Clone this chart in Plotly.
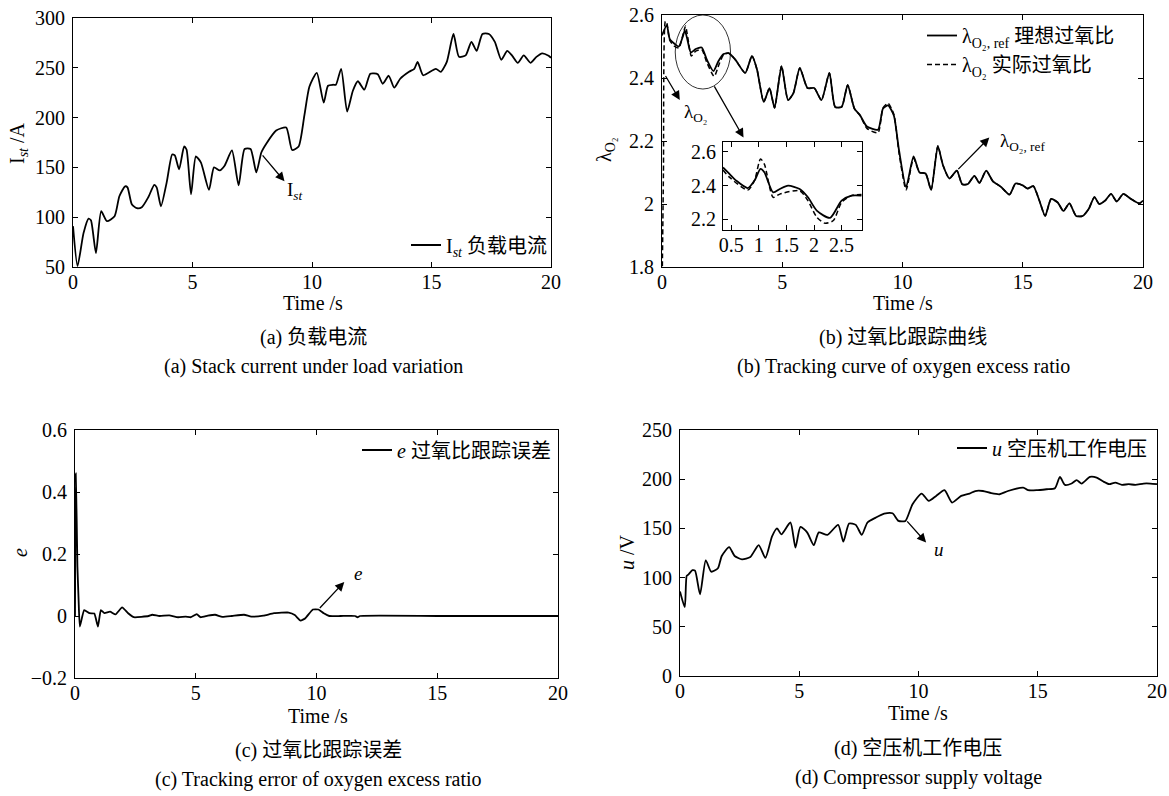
import plotly.graph_objects as go

# ---------------- data ----------------
# (a) stack current
t_I = [0, 0.19, 0.44, 0.65, 0.75, 0.96, 1.18, 1.42, 1.74, 1.94, 2.18, 2.28, 2.46, 2.67, 2.88,
       3.15, 3.4, 3.5, 3.68, 3.92, 4.15, 4.26, 4.44, 4.65, 4.75, 4.94, 5.14, 5.35, 5.69, 5.9,
       6.14, 6.35, 6.65, 6.93, 7.18, 7.43, 7.67, 7.88, 8.08, 8.5, 8.92, 9.17, 9.44, 9.68, 9.89,
       10.2, 10.49, 10.67, 10.88, 11.0, 11.22, 11.47, 11.71, 11.92, 12.19, 12.44, 12.75, 12.96, 13.21, 13.44,
       13.69, 14.06, 14.28, 14.42, 14.65, 15.18, 15.39, 15.64, 15.92, 16.15, 16.43, 16.67, 16.89, 17.13, 17.4,
       17.65, 17.92, 18.17, 18.38, 18.61, 18.86, 19.14, 19.39, 19.63, 19.9, 20]
I_st = [91, 51, 84, 98.5, 97, 64, 106, 96, 101, 121, 131, 130, 113, 109, 110,
        120, 132.5, 130, 111, 135, 163, 162, 148, 171, 168, 123, 161, 155, 127.5, 150,
        147, 152, 167, 132, 168.5, 168.5, 145, 165, 173.5, 187, 190, 167.5, 171, 202, 231,
        245, 215, 232, 233, 233, 249, 206, 227, 236.5, 228, 244, 243.5, 234, 242, 230,
        239, 246, 249, 256, 242.5, 249, 246, 256, 284, 261, 262.5, 276, 267, 284, 284,
        276, 258, 267, 262, 255, 262.5, 255, 261, 264.5, 262, 260]

# (b) oxygen excess ratio
t_ref = [0, 0.2, 0.32, 0.53, 0.7, 0.88, 0.95, 1.05, 1.2, 1.4, 1.65, 1.86, 2.14, 2.35, 2.56,
         2.77, 3.04, 3.46, 3.74, 3.95, 4.23, 4.47, 4.68, 4.97, 5.24, 5.46, 5.73, 6.05, 6.33, 6.63,
         6.96, 7.2, 7.47, 7.72, 8.0, 8.24, 8.52, 8.98, 9.19, 9.4, 9.64, 9.85, 10.15, 10.46, 10.71,
         10.96, 11.19, 11.47, 11.68, 11.95, 12.26, 12.48, 12.71, 12.99, 13.2, 13.48, 13.75, 14.1, 14.45, 14.7,
         15.0, 15.2, 15.44, 15.69, 15.93, 16.18, 16.45, 16.69, 16.94, 17.22, 17.49, 17.74, 17.98, 18.18, 18.43,
         18.67, 18.91, 19.18, 19.5, 19.85, 20.0]
lam_ref = [2.535, 2.568, 2.524, 2.508, 2.5, 2.535, 2.551, 2.524, 2.481, 2.492, 2.497, 2.459, 2.422, 2.454, 2.476,
           2.479, 2.459, 2.416, 2.47, 2.427, 2.324, 2.368, 2.305, 2.438, 2.33, 2.351, 2.432, 2.368, 2.368, 2.33,
           2.416, 2.308, 2.308, 2.378, 2.303, 2.281, 2.246, 2.236, 2.303, 2.313, 2.281, 2.173, 2.054, 2.151, 2.1,
           2.097, 2.045, 2.184, 2.124, 2.081, 2.106, 2.063, 2.063, 2.089, 2.067, 2.106, 2.073, 2.054, 2.03, 2.065,
           2.059, 2.049, 2.057, 2.011, 1.962, 2.016, 2.005, 1.978, 2.002, 1.962, 1.962, 1.984, 2.022, 2.0, 2.011,
           2.032, 2.008, 2.032, 2.016, 2.002, 2.011]
t_act = [0, 0.06, 0.14, 0.2, 0.32, 0.53, 0.7, 0.88, 0.98, 1.07, 1.22, 1.4, 1.65, 1.86, 2.17, 2.38, 2.56,
         2.77, 3.04, 3.46, 3.74, 3.95, 4.23, 4.47, 4.68, 4.97, 5.24, 5.46, 5.73, 6.05, 6.33, 6.63,
         6.96, 7.2, 7.47, 7.72, 8.0, 8.24, 8.52, 8.98, 9.19, 9.4, 9.64, 9.85, 10.15, 10.46, 10.71,
         10.96, 11.19, 11.47, 11.68, 11.95, 12.26, 12.48, 12.71, 12.99, 13.2, 13.48, 13.75, 14.1, 14.45, 14.7,
         15.0, 15.2, 15.44, 15.69, 15.93, 16.18, 16.45, 16.69, 16.94, 17.22, 17.49, 17.74, 17.98, 18.18, 18.43,
         18.67, 18.91, 19.18, 19.5, 19.85, 20.0]
lam_act = [1.70, 2.10, 2.58, 2.575, 2.52, 2.50, 2.495, 2.54, 2.565, 2.53, 2.47, 2.485, 2.49, 2.45, 2.405, 2.445, 2.474,
           2.479, 2.459, 2.416, 2.47, 2.427, 2.324, 2.368, 2.305, 2.438, 2.33, 2.351, 2.432, 2.368, 2.368, 2.33,
           2.416, 2.308, 2.308, 2.378, 2.303, 2.281, 2.24, 2.226, 2.305, 2.32, 2.285, 2.165, 2.045, 2.145, 2.1,
           2.097, 2.045, 2.184, 2.124, 2.081, 2.106, 2.063, 2.063, 2.089, 2.067, 2.106, 2.073, 2.054, 2.03, 2.065,
           2.059, 2.049, 2.057, 2.011, 1.962, 2.016, 2.005, 1.978, 2.002, 1.962, 1.962, 1.984, 2.022, 2.0, 2.011,
           2.032, 2.008, 2.032, 2.016, 2.002, 2.011]

# (b) inset
ins_t_ref = [0.35, 0.44, 0.59, 0.8, 0.92, 1.03, 1.1, 1.26, 1.38, 1.53, 1.74, 1.89, 2.05, 2.29, 2.5, 2.68, 2.86]
ins_ref = [2.508, 2.479, 2.43, 2.386, 2.43, 2.499, 2.479, 2.36, 2.38, 2.4, 2.38, 2.331, 2.252, 2.209, 2.311, 2.341, 2.341]
ins_t_act = [0.35, 0.47, 0.8, 0.92, 1.03, 1.1, 1.26, 1.38, 1.74, 1.89, 2.05, 2.2, 2.35, 2.5, 2.68, 2.86]
ins_act = [2.493, 2.449, 2.374, 2.43, 2.558, 2.528, 2.331, 2.35, 2.37, 2.311, 2.213, 2.177, 2.193, 2.3, 2.341, 2.347]

# (c) tracking error
t_e = [0, 0.03, 0.07, 0.1, 0.15, 0.2, 0.38, 0.6, 0.8, 0.95, 1.07, 1.22, 1.45, 1.68, 1.95,
       2.2, 2.44, 3.05, 3.2, 3.5, 3.9, 4.27, 4.58, 4.8, 5.04, 5.2, 5.5, 5.8, 6.1, 6.5,
       7.0, 7.3, 7.8, 8.24, 8.85, 9.1, 9.34, 9.54, 9.85, 10.08, 10.3, 10.53, 11.0, 11.6, 11.7,
       11.8, 15, 20]
e_err = [0, 0.46, 0.31, 0.16, 0.05, -0.034, 0.019, 0.009, 0.008, -0.034, 0.019, 0.009, 0.014, 0.005, 0.028,
         0.009, -0.004, 0.0, 0.004, 0.0, 0.002, -0.004, -0.002, -0.004, 0.006, -0.004, 0.001, 0.004, -0.003, 0.0,
         0.004, -0.002, 0.001, 0.009, 0.011, 0.003, -0.015, -0.007, 0.021, 0.021, 0.009, 0.0, 0.0, 0.0, -0.004,
         0.0, 0.0, 0.0]

# (d) compressor voltage
t_u = [0, 0.2, 0.28, 0.35, 0.52, 0.63, 0.84, 1.08, 1.31, 1.59, 1.75, 2.06, 2.29, 2.6, 2.95,
       3.3, 3.58, 3.86, 4.07, 4.25, 4.63, 4.84, 5.05, 5.33, 5.61, 5.82, 6.18, 6.63, 6.85, 7.09,
       7.37, 7.62, 7.86, 8.21, 8.56, 8.91, 9.16, 9.45, 9.75, 10.13, 10.43, 10.74, 11.09, 11.41, 11.79,
       12.14, 12.38, 12.7, 13.05, 13.4, 13.75, 14.39, 14.6, 14.95, 15.37, 15.72, 15.93, 16.14, 16.42, 16.63,
       16.84, 17.19, 17.47, 17.75, 18.0, 18.25, 18.53, 18.81, 19.09, 19.44, 19.72, 20]
u_v = [86, 70, 101.7, 103, 107.5, 107, 83, 117.6, 106, 109.5, 122, 131, 122, 118.6, 121,
       133, 120, 142, 150, 144, 156, 130.5, 151.5, 146, 133, 146, 143.4, 153.6, 136.6, 155,
       153.6, 143.4, 156, 161, 165, 165.4, 157.6, 157.6, 174.6, 185.4, 178, 183, 188.8, 176.3, 183,
       185.4, 188, 188, 185.8, 184.7, 188, 191.5, 188.8, 188.8, 189.8, 190.8, 202.4, 194.2, 195.6, 199,
       195.6, 202.4, 201.7, 197.6, 195, 196.6, 194.2, 195, 194.2, 195.6, 195.6, 195]

x_ticks = [0, 5, 10, 15, 20]
x_ticklabels = ["0", "5", "10", "15", "20"]

# ---------------- figure ----------------
W, H = 1169, 796
FONT = "Liberation Serif, Noto Sans CJK SC"

def px(x):
    return x / W

def py(y):
    return 1 - y / H

fig = go.Figure()
LW = 1.8
DASH = "5px,3px"

fig.add_trace(go.Scatter(x=t_I, y=I_st, mode="lines", line=dict(color="black", width=LW, shape="spline", smoothing=0.6),
                         name="I<sub><i>st</i></sub> 负载电流", xaxis="x", yaxis="y", legend="legend"))
fig.add_trace(go.Scatter(x=t_ref, y=lam_ref, mode="lines", line=dict(color="black", width=LW, shape="spline", smoothing=0.6),
                         name="λ<sub>O₂, ref</sub> 理想过氧比", xaxis="x2", yaxis="y2", legend="legend2"))
fig.add_trace(go.Scatter(x=t_act, y=lam_act, mode="lines", line=dict(color="black", width=1.5, dash=DASH, shape="spline", smoothing=0.6),
                         name="λ<sub>O₂</sub> 实际过氧比", xaxis="x2", yaxis="y2", legend="legend2"))
fig.add_trace(go.Scatter(x=t_e, y=e_err, mode="lines", line=dict(color="black", width=LW, shape="spline", smoothing=0.4),
                         name="<i>e</i> 过氧比跟踪误差", xaxis="x3", yaxis="y3", legend="legend3"))
fig.add_trace(go.Scatter(x=t_u, y=u_v, mode="lines", line=dict(color="black", width=LW, shape="spline", smoothing=0.6),
                         name="<i>u</i> 空压机工作电压", xaxis="x4", yaxis="y4", legend="legend4"))
fig.add_trace(go.Scatter(x=ins_t_ref, y=ins_ref, mode="lines", line=dict(color="black", width=LW, shape="spline", smoothing=0.7),
                         showlegend=False, xaxis="x5", yaxis="y5"))
fig.add_trace(go.Scatter(x=ins_t_act, y=ins_act, mode="lines", line=dict(color="black", width=1.5, dash=DASH, shape="spline", smoothing=0.7),
                         showlegend=False, xaxis="x5", yaxis="y5"))

tickfont = dict(family=FONT, size=20, color="black")

def axis(domain, rng, anchor, tickvals, ticktext, standoff):
    return dict(domain=domain, range=rng, anchor=anchor, tickvals=tickvals, ticktext=ticktext,
                showline=True, linecolor="black", linewidth=1, mirror="ticks", ticks="inside",
                ticklen=5, tickcolor="black", showgrid=False, zeroline=False, tickfont=tickfont,
                ticklabelstandoff=standoff, automargin=False, fixedrange=True)

# domains in pixels
A = (73, 551, 18, 267)
B = (662, 1143, 15, 267)
C = (75, 558, 430, 678)
D = (680, 1157, 430, 676)
INS = (723, 862, 142, 230)

def xd(r):
    return [px(r[0]), px(r[1])]

def yd(r):
    return [py(r[3]), py(r[2])]

XS, YS = -3, 3
fig.update_layout(
    template="none",
    xaxis=axis(xd(A), [0, 20], "y", x_ticks, x_ticklabels, XS),
    yaxis=axis(yd(A), [50, 300], "x", [50, 100, 150, 200, 250, 300], ["50", "100", "150", "200", "250", "300"], YS),
    xaxis2=axis(xd(B), [0, 20], "y2", x_ticks, x_ticklabels, XS),
    yaxis2=axis(yd(B), [1.8, 2.6], "x2", [1.8, 2.0, 2.2, 2.4, 2.6], ["1.8", "2", "2.2", "2.4", "2.6"], YS),
    xaxis3=axis(xd(C), [0, 20], "y3", x_ticks, x_ticklabels, XS),
    yaxis3=axis(yd(C), [-0.2, 0.6], "x3", [-0.2, 0, 0.2, 0.4, 0.6], ["−0.2", "0", "0.2", "0.4", "0.6"], YS),
    xaxis4=axis(xd(D), [0, 20], "y4", x_ticks, x_ticklabels, XS),
    yaxis4=axis(yd(D), [0, 250], "x4", [0, 50, 100, 150, 200, 250], ["0", "50", "100", "150", "200", "250"], YS),
    xaxis5=axis(xd(INS), [0.35, 2.87], "y5", [0.5, 1, 1.5, 2, 2.5], ["0.5", "1", "1.5", "2", "2.5"], XS),
    yaxis5=axis(yd(INS), [2.137, 2.659], "x5", [2.2, 2.4, 2.6], ["2.2", "2.4", "2.6"], 2),
)

legfont = dict(family=FONT, size=20, color="black")
leg_common = dict(font=legfont, bgcolor="rgba(0,0,0,0)", borderwidth=0, xref="paper", yref="paper")
fig.update_layout(
    legend=dict(x=px(553), y=py(245), xanchor="right", yanchor="middle", **leg_common),
    legend2=dict(x=px(922), y=py(16), xanchor="left", yanchor="top", tracegroupgap=0, **leg_common),
    legend3=dict(x=px(556), y=py(450), xanchor="right", yanchor="middle", **leg_common),
    legend4=dict(x=px(1152), y=py(448), xanchor="right", yanchor="middle", **leg_common),
)

ann = []

def label(text, x, y, xa="center", size=19, angle=0, xref="paper", yref="paper"):
    ann.append(dict(text=text, x=x, y=y, xref=xref, yref=yref, showarrow=False, xanchor=xa, yanchor="middle",
                    textangle=angle, font=dict(family=FONT, size=size, color="black")))

def arrow(xr, yr, tail, head):
    ann.append(dict(text="", x=head[0], y=head[1], ax=tail[0], ay=tail[1], xref=xr, yref=yr, axref=xr, ayref=yr,
                    showarrow=True, arrowhead=2, arrowsize=1.4, arrowwidth=1.3, arrowcolor="black"))

# axis titles
label("Time /s", px(313), py(303), size=20)
label("Time /s", px(903), py(303), size=20)
label("Time /s", px(318), py(716), size=20)
label("Time /s", px(918), py(713), size=20)
label("I<sub><i>st</i></sub> /A", px(18), py(143), angle=-90, size=20)
label("λ<sub>O₂</sub>", px(605), py(150), angle=-90, size=20)
label("<i>e</i>", px(20), py(553), angle=-90, size=20)
label("<i>u</i> /V", px(627), py(552), angle=-90, size=20)

# captions
label("(a) 负载电流", px(313), py(337), size=20)
label("(a) Stack current under load variation", px(313), py(366), size=20)
label("(b) 过氧比跟踪曲线", px(903), py(337), size=20)
label("(b) Tracking curve of oxygen excess ratio", px(903), py(366), size=20)
label("(c) 过氧比跟踪误差", px(318), py(750), size=20)
label("(c) Tracking error of oxygen excess ratio", px(318), py(779), size=20)
label("(d) 空压机工作电压", px(918), py(748), size=20)
label("(d) Compressor supply voltage", px(918), py(777), size=20)

# arrows and in-plot labels
arrow("x", "y", (7.88, 163.5), (8.85, 136))
label("I<sub><i>st</i></sub>", 8.85, 126, xa="left", xref="x", yref="y")
arrow("x2", "y2", (0.11, 2.411), (0.74, 2.33))
label("λ<sub>O₂</sub>", 0.85, 2.288, xa="left", xref="x2", yref="y2")
arrow("x2", "y2", (2.14, 2.378), (3.39, 2.211))
arrow("x2", "y2", (12.26, 2.106), (13.61, 2.211))
label("λ<sub>O₂, ref</sub>", 13.95, 2.197, xa="left", xref="x2", yref="y2")
arrow("x3", "y3", (10.08, 0.021), (11.15, 0.11))
label("<i>e</i>", 11.45, 0.136, xa="left", xref="x3", yref="y3")
arrow("x4", "y4", (9.47, 158.6), (10.32, 135.6))
label("<i>u</i>", 10.55, 129, xa="left", xref="x4", yref="y4")

fig.update_layout(annotations=ann)

fig.add_shape(type="circle", xref="x2", yref="y2", x0=0.55, x1=2.85, y0=2.365, y1=2.6,
              line=dict(color="black", width=0.8))

fig.update_layout(width=W, height=H, margin=dict(l=0, r=0, t=0, b=0, pad=0),
                  plot_bgcolor="white", paper_bgcolor="white", showlegend=True,
                  font=dict(family=FONT, color="black"))

fig.write_html("out.html", config={"displayModeBar": False},
               post_script="document.body.style.margin='0px';document.body.style.overflow='hidden';")
